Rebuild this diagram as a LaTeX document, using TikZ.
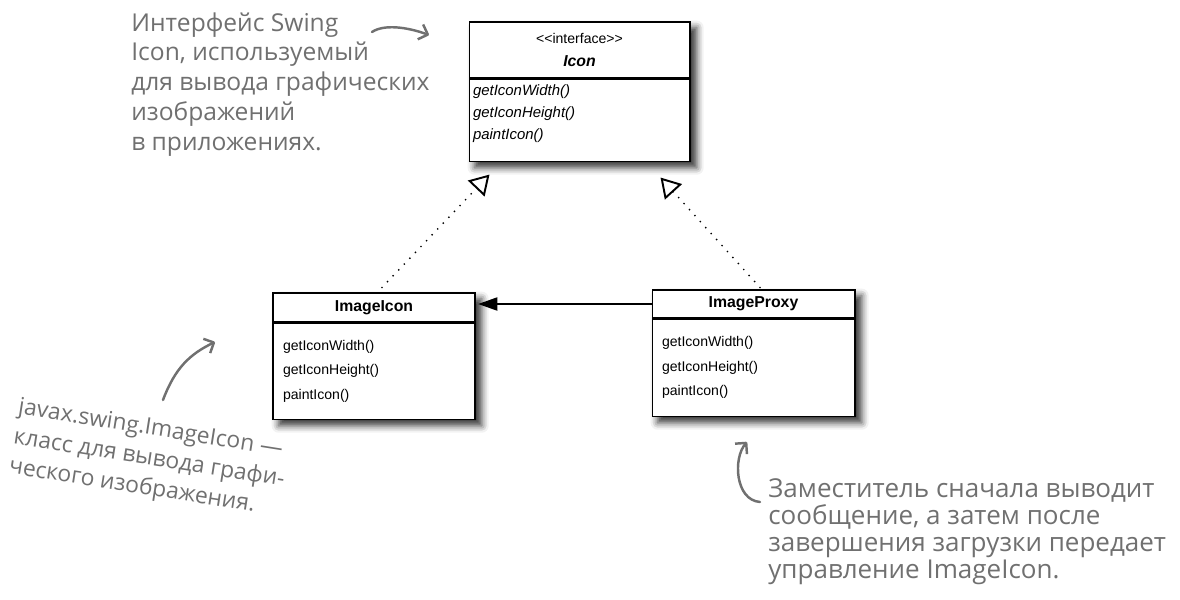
\documentclass[tikz,border=0pt]{standalone}
\usepackage{fontspec}
\usepackage{tikz}
\usetikzlibrary{positioning,arrows.meta,shadows.blur,fit,backgrounds}
\newfontfamily\umlfont{Liberation Sans}
\newfontfamily\notefont{Open Sans}
\definecolor{notegray}{RGB}{112,112,112}

\begin{document}
\begin{tikzpicture}[x=0.02cm, y=-0.02cm,
    classhead/.style={draw, fill=white, line width=0.6pt, inner sep=0pt, align=center,
        font=\umlfont\fontsize{9}{13}\selectfont\bfseries},
    classbody/.style={draw, fill=white, line width=0.6pt, inner xsep=0.2cm, inner ysep=0pt, align=left,
        font=\umlfont\fontsize{8}{14}\selectfont},
    classshadow/.style={fill=white, inner sep=0pt,
        blur shadow={shadow xshift=3.5pt, shadow yshift=-3.5pt, shadow blur radius=4pt, shadow opacity=80}},
    realizes/.style={line width=1.1pt, dash pattern=on 0pt off 4.6pt, line cap=round,
        -{Triangle[open, length=11pt, width=13pt, line cap=butt]}},
    uses/.style={line width=1pt, -{Triangle[length=11pt, width=7.5pt]}, shorten >=1.5pt},
    notetext/.style={notegray, inner sep=0pt, align=left, font=\notefont\fontsize{14}{17}\selectfont},
    notearrow/.style={draw=notegray, line width=1.4pt, line cap=round,
        -{Straight Barb[length=4.5pt, width=9pt, line join=round]}}
]
    \useasboundingbox (0,0) rectangle (1180,599);

    % interface Icon
    \node[classhead, minimum width=4.42cm, minimum height=1.12cm] (iconhead) at (579.5,50)
        {{\mdseries\fontsize{8}{13}\selectfont <\kern0pt<interface>\kern0pt>}\\ \textit{Icon}};
    \node[classbody, below=0pt of iconhead, inner xsep=0.08cm, text width=4.26cm,
          minimum height=1.64cm, text depth=34pt, font=\umlfont\fontsize{8.5}{12.5}\selectfont\itshape] (iconbody)
        {getIconWidth()\\ getIconHeight()\\ paintIcon()};

    % real subject
    \node[classhead, minimum width=4.04cm, minimum height=0.58cm] (imgiconhead) at (374,307.5) {ImageIcon};
    \node[classbody, below=0pt of imgiconhead, text width=3.64cm, minimum height=1.92cm] (imgiconbody)
        {getIconWidth()\\ getIconHeight()\\ paintIcon()};

    % proxy
    \node[classhead, minimum width=4.06cm, minimum height=0.56cm] (proxyhead) at (753.5,304) {ImageProxy};
    \node[classbody, below=0pt of proxyhead, text width=3.66cm, minimum height=1.94cm] (proxybody)
        {getIconWidth()\\ getIconHeight()\\ paintIcon()};

    % shadows behind the classes
    \begin{scope}[on background layer]
        \node[classshadow, fit=(iconhead)(iconbody)] {};
        \node[classshadow, fit=(imgiconhead)(imgiconbody)] {};
        \node[classshadow, fit=(proxyhead)(proxybody)] {};
    \end{scope}

    % connectors
    \draw[realizes] ([xshift=0.16cm, yshift=0.1cm]imgiconhead.north) -- ([xshift=0.42cm, yshift=-0.26cm]iconbody.south west);
    \draw[realizes] ([xshift=0.13cm, yshift=0.04cm]proxyhead.north) -- ([xshift=-0.6cm, yshift=-0.32cm]iconbody.south east);
    \draw[uses] (proxyhead.west) -- (proxyhead.west -| imgiconhead.east);

    % notes
    \node[notetext, anchor=north west] (iconnote) at (131,12)
        {Интерфейс Swing\\ Icon, используемый\\ для вывода графических\\ изображений\\ в приложениях.};
    \node[notetext, anchor=north west, rotate=-9, font=\notefont\fontsize{13}{17}\selectfont] (imgiconnote) at (20,397)
        {javax.swing.ImageIcon —\\ класс для вывода графи-\\ ческого изображения.};
    \node[notetext, anchor=north west, font=\notefont\fontsize{14.8}{15.5}\selectfont] (proxynote) at (768,478)
        {Заместитель сначала выводит\\ сообщение, а затем после\\ завершения загрузки передает\\ управление ImageIcon.};

    \coordinate (iconnote-from) at (372,32);
    \coordinate (iconnote-to) at (429,35);
    \coordinate (imgiconnote-from) at (163,400);
    \coordinate (imgiconnote-to) at (215,342);
    \coordinate (proxynote-from) at (760,502);
    \coordinate (proxynote-to) at (747,442);

    \draw[notearrow] (iconnote-from) .. controls +(12,-8) and +(-22,-8) .. (iconnote-to);
    \draw[notearrow] (imgiconnote-from) .. controls +(12,-32) and +(-25,12) .. (imgiconnote-to);
    \draw[notearrow] (proxynote-from) .. controls +(-25,-2) and +(-14,16) .. (proxynote-to);
\end{tikzpicture}
\end{document}
